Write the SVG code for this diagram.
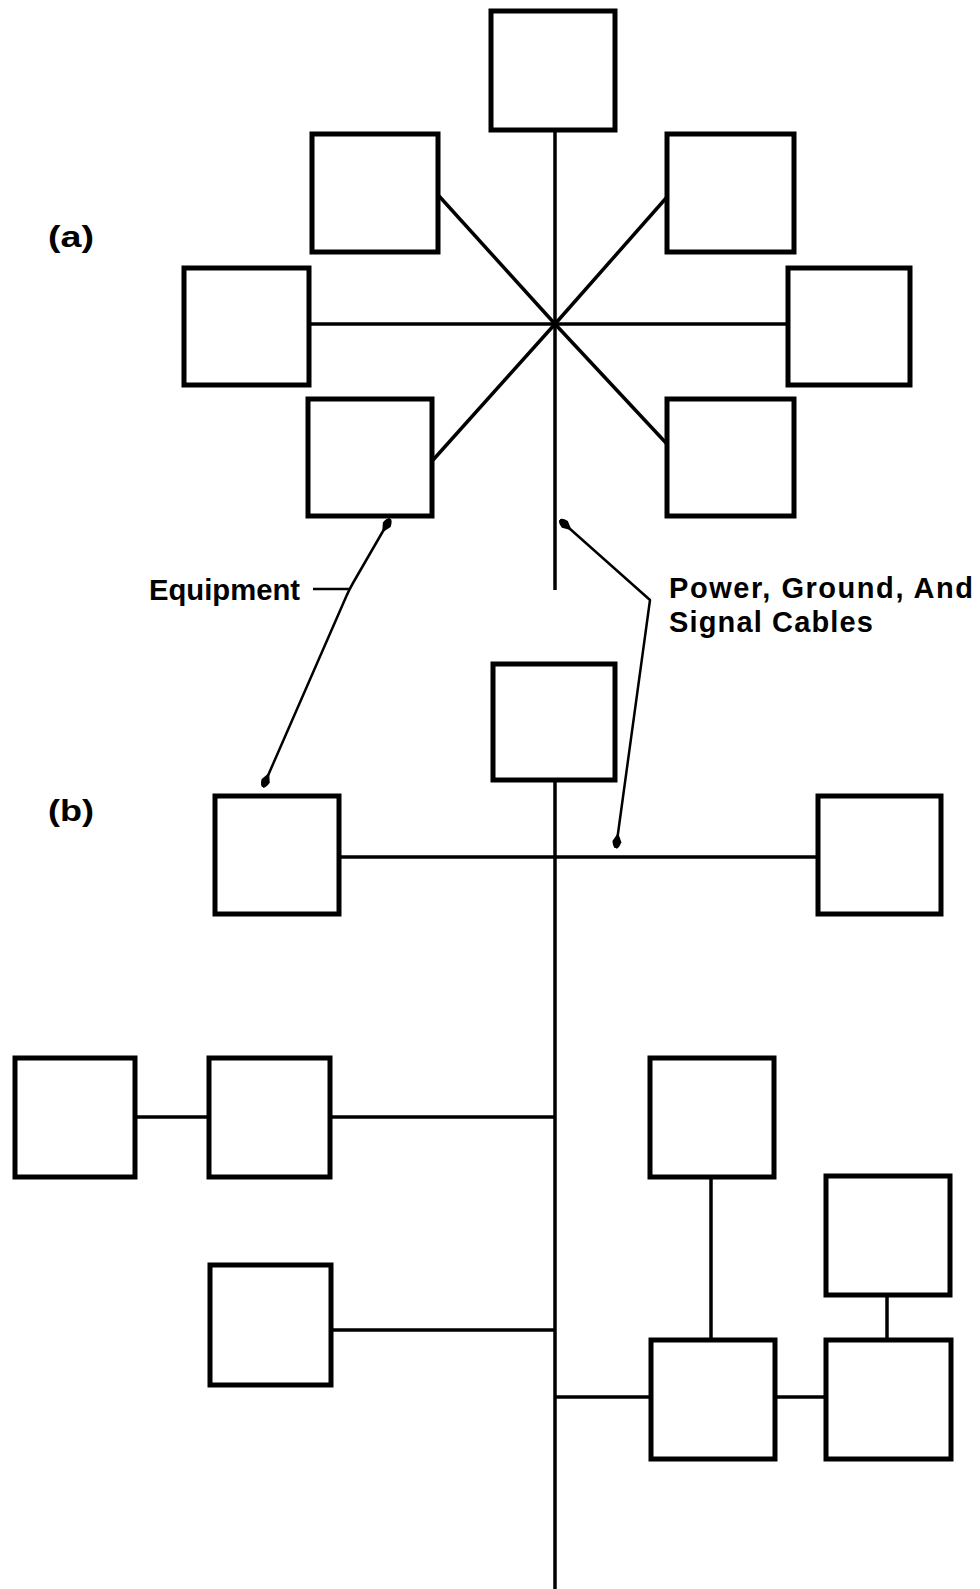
<svg xmlns="http://www.w3.org/2000/svg" width="980" height="1589" viewBox="0 0 980 1589">
<style>
.box{fill:#fff;stroke:#000;stroke-width:5;stroke-linejoin:miter}
.ln{fill:none;stroke:#000;stroke-width:3.5}
.lead{fill:none;stroke:#000;stroke-width:2.5;stroke-linejoin:round}
.lbl{font-family:"Liberation Sans",Arial,sans-serif;font-weight:bold;font-size:29px;fill:#000}
</style>
<defs>
<marker id="ah" viewBox="0 0 16 10" refX="15.5" refY="5" markerWidth="16" markerHeight="10" markerUnits="userSpaceOnUse" orient="auto-start-reverse">
<path d="M0,5 L9,0.5 Q16,2 16,5 Q16,8 9,9.5 Z" fill="#000"/>
</marker>
</defs>
<rect width="980" height="1589" fill="#fff"/>
<g id="connectors">
<!-- (a) star -->
<line class="ln" x1="555" y1="130" x2="555" y2="590"/>
<line class="ln" x1="310" y1="324" x2="788" y2="324"/>
<line class="ln" x1="439" y1="196" x2="555" y2="324"/>
<line class="ln" x1="667" y1="197" x2="555" y2="324"/>
<line class="ln" x1="433" y1="460" x2="555" y2="324"/>
<line class="ln" x1="667" y1="444" x2="555" y2="324"/>
<!-- (b) bus -->
<line class="ln" x1="555" y1="780" x2="555" y2="1589"/>
<line class="ln" x1="339" y1="857" x2="818" y2="857"/>
<line class="ln" x1="135" y1="1117" x2="208" y2="1117"/>
<line class="ln" x1="330" y1="1117" x2="555" y2="1117"/>
<line class="ln" x1="331" y1="1330" x2="555" y2="1330"/>
<line class="ln" x1="555" y1="1397" x2="650" y2="1397"/>
<line class="ln" x1="775" y1="1397" x2="825" y2="1397"/>
<line class="ln" x1="711" y1="1177" x2="711" y2="1339"/>
<line class="ln" x1="887" y1="1295" x2="887" y2="1339"/>
<!-- leaders -->
<path class="lead" d="M390,519 L353,583 Q349,590 346,597 L263,787" marker-start="url(#ah)" marker-end="url(#ah)"/>
<line class="lead" x1="313" y1="589" x2="349" y2="589"/>
<path class="lead" d="M560,520 L650,600 L616,848" marker-start="url(#ah)" marker-end="url(#ah)"/>
</g>
<g id="a-top"><rect class="box" x="491" y="11" width="124" height="119"/></g>
<g id="a-upper-left"><rect class="box" x="312" y="134" width="126" height="118"/></g>
<g id="a-upper-right"><rect class="box" x="667" y="134" width="127" height="118"/></g>
<g id="a-left"><rect class="box" x="184" y="268" width="125" height="117"/></g>
<g id="a-right"><rect class="box" x="788" y="268" width="122" height="117"/></g>
<g id="a-lower-left"><rect class="box" x="308" y="399" width="124" height="117"/></g>
<g id="a-lower-right"><rect class="box" x="667" y="399" width="127" height="117"/></g>
<g id="b-top"><rect class="box" x="493" y="664" width="122" height="116"/></g>
<g id="b-left"><rect class="box" x="215" y="796" width="124" height="118"/></g>
<g id="b-right"><rect class="box" x="818" y="796" width="123" height="118"/></g>
<g id="b-row1-a"><rect class="box" x="15" y="1058" width="120" height="119"/></g>
<g id="b-row1-b"><rect class="box" x="209" y="1058" width="121" height="119"/></g>
<g id="b-right-upper"><rect class="box" x="650" y="1058" width="124" height="119"/></g>
<g id="b-far-right-upper"><rect class="box" x="826" y="1176" width="124" height="119"/></g>
<g id="b-left-middle"><rect class="box" x="210" y="1265" width="121" height="120"/></g>
<g id="b-right-lower"><rect class="box" x="651" y="1340" width="124" height="119"/></g>
<g id="b-far-right-lower"><rect class="box" x="826" y="1340" width="125" height="119"/></g>
<g id="labels">
<text class="lbl" x="48" y="247" textLength="46" lengthAdjust="spacingAndGlyphs">(a)</text>
<text class="lbl" x="48" y="821" textLength="46" lengthAdjust="spacingAndGlyphs">(b)</text>
<text class="lbl" x="149" y="600" textLength="151" lengthAdjust="spacingAndGlyphs">Equipment</text>
<text class="lbl" x="669" y="598" textLength="304" lengthAdjust="spacing">Power, Ground, And</text>
<text class="lbl" x="669" y="632" textLength="204" lengthAdjust="spacing">Signal Cables</text>
</g>
</svg>
